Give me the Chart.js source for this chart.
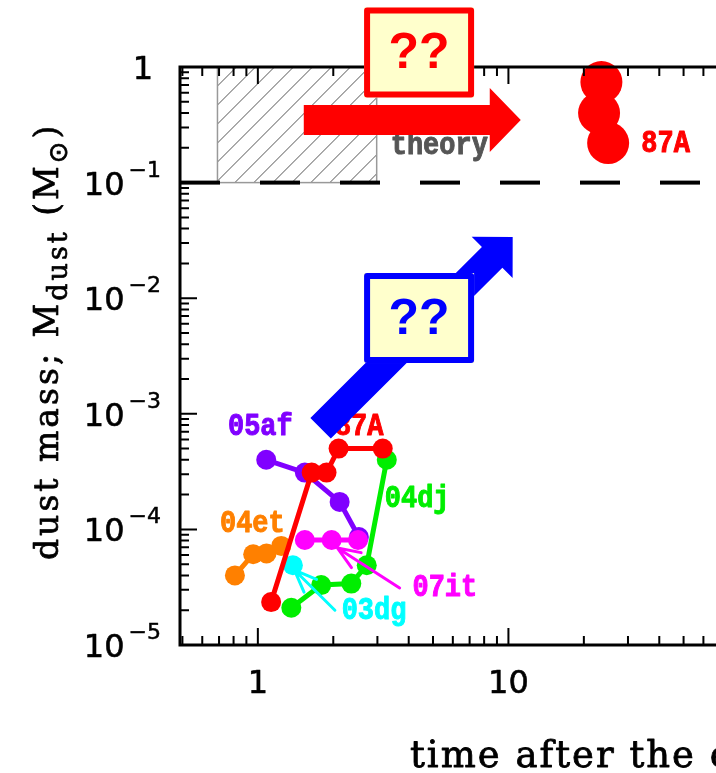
<!DOCTYPE html>
<html>
<head>
<meta charset="utf-8">
<title>Dust mass in supernovae</title>
<script src="https://cdn.jsdelivr.net/npm/chart.js@4/dist/chart.umd.min.js"></script>
<style>
html, body { margin: 0; padding: 0; background: #fff; overflow: hidden; }
#wrap { width: 716px; height: 773px; overflow: hidden; }
</style>
</head>
<body>
<div id="wrap"><canvas id="dustChart" width="780" height="773"></canvas></div>
<script>
// dust mass (Msun) against time after the explosion (yr)
const sn05afTime = [1.08, 1.54, 2.12, 2.53];
const sn05afMass = [4.0e-4, 3.1e-4, 1.73e-4, 8.6e-5];

const sn87aTime = [1.13, 1.64, 1.88, 2.10, 3.15];
const sn87aMass = [2.35e-5, 3.1e-4, 3.1e-4, 5.0e-4, 5.0e-4];

const sn04djTime = [1.36, 1.79, 2.36, 2.72, 3.27];
const sn04djMass = [2.1e-5, 3.3e-5, 3.4e-5, 4.9e-5, 4.0e-4];

const sn04etTime = [0.81, 0.958, 1.083, 1.24];
const sn04etMass = [4.0e-5, 6.1e-5, 6.2e-5, 7.2e-5];

const sn07itTime = [1.54, 1.97, 2.51];
const sn07itMass = [8.1e-5, 8.1e-5, 8.1e-5];

const sn03dgTime = [1.38];
const sn03dgMass = [4.9e-5];

// late-time 87A (far-IR / submm)
const sn87aLateTime = [23.5, 23.0, 25.0];
const sn87aLateMass = [0.74, 0.40, 0.22];

// theoretical range of condensed dust
const theoryTime = [0.69, 2.98];
const theoryMass = [0.1, 1];

const xTicks = [1, 10, 100];
const yTicks = [1e-5, 1e-4, 1e-3, 1e-2, 1e-1, 1];

function pairs(ts, ms) {
    return ts.map(function(t, i) { return { x: t, y: ms[i] }; });
}

function series(data, color, order, radius, line) {
    return {
        data: data,
        borderColor: color,
        backgroundColor: color,
        pointBackgroundColor: color,
        pointBorderWidth: 0,
        pointRadius: radius,
        pointHoverRadius: radius,
        borderWidth: 5,
        showLine: line,
        tension: 0,
        order: order,
        clip: false
    };
}

const SERIF = '"DejaVu Serif", serif';
const SANS = '"DejaVu Sans", sans-serif';
const MONO = '"Liberation Mono", monospace';

function logMarks(min, max) {
    const out = [];
    for (let d = Math.floor(Math.log10(min)); d <= Math.ceil(Math.log10(max)); d++) {
        for (let m = 1; m < 10; m++) {
            const v = m * Math.pow(10, d);
            if (v >= min * 0.999 && v <= max * 1.001) out.push({ v: v, major: m === 1 });
        }
    }
    return out;
}

function blockArrow(ctx, x0, y0, x1, y1, shaft, headLen, headHalf, color) {
    const ang = Math.atan2(y1 - y0, x1 - x0);
    const len = Math.hypot(x1 - x0, y1 - y0);
    ctx.save();
    ctx.translate(x0, y0);
    ctx.rotate(ang);
    ctx.fillStyle = color;
    ctx.beginPath();
    ctx.moveTo(0, -shaft / 2);
    ctx.lineTo(len - headLen, -shaft / 2);
    ctx.lineTo(len - headLen, -headHalf);
    ctx.lineTo(len, 0);
    ctx.lineTo(len - headLen, headHalf);
    ctx.lineTo(len - headLen, shaft / 2);
    ctx.lineTo(0, shaft / 2);
    ctx.closePath();
    ctx.fill();
    ctx.restore();
}

function lineArrow(ctx, x0, y0, x1, y1, color) {
    const ang = Math.atan2(y1 - y0, x1 - x0);
    const head = 24, spread = 0.38;
    ctx.save();
    ctx.strokeStyle = color;
    ctx.lineWidth = 3;
    ctx.lineCap = 'round';
    ctx.beginPath();
    ctx.moveTo(x0, y0);
    ctx.lineTo(x1, y1);
    ctx.moveTo(x1 - head * Math.cos(ang - spread), y1 - head * Math.sin(ang - spread));
    ctx.lineTo(x1, y1);
    ctx.lineTo(x1 - head * Math.cos(ang + spread), y1 - head * Math.sin(ang + spread));
    ctx.stroke();
    ctx.restore();
}

function questionBox(ctx, cx, cy, w, h, color) {
    ctx.save();
    ctx.fillStyle = '#ffffcc';
    ctx.fillRect(cx - w / 2, cy - h / 2, w, h);
    ctx.strokeStyle = color;
    ctx.lineWidth = 6;
    ctx.strokeRect(cx - w / 2 + 3, cy - h / 2 + 3, w - 6, h - 6);
    ctx.fillStyle = color;
    ctx.font = 'bold 50px "Liberation Sans", sans-serif';
    ctx.textAlign = 'center';
    ctx.textBaseline = 'middle';
    ctx.fillText('??', cx, cy + 2);
    ctx.restore();
}

// heavier text: fill plus a thin outline in the same colour
function heavyText(ctx, s, x, y, weight) {
    ctx.lineWidth = weight;
    ctx.strokeStyle = ctx.fillStyle;
    ctx.lineJoin = 'round';
    ctx.strokeText(s, x, y);
    ctx.fillText(s, x, y);
}

// labels next to each supernova track
const snLabels = [
    { text: '05af', color: '#8000ff', t: 0.76, m: 7.7e-4 },
    { text: '87A', color: '#ff0000', t: 2.03, m: 7.7e-4 },
    { text: '04dj', color: '#00ee00', t: 3.21, m: 1.83e-4 },
    { text: '04et', color: '#ff8000', t: 0.706, m: 1.11e-4 },
    { text: '07it', color: '#ff00ff', t: 4.14, m: 3.11e-5 },
    { text: '03dg', color: '#00ffff', t: 2.16, m: 1.97e-5 },
    { text: '87A', color: '#ff0000', t: 33.9, m: 0.216 },
    { text: 'theory', color: '#555555', t: 3.39, m: 0.207 }
];

const underlay = {
    id: 'underlay',
    beforeDatasetsDraw: function(chart) {
        const ctx = chart.ctx;
        const area = chart.chartArea;
        const xs = chart.scales.x, ys = chart.scales.y;
        const bx0 = xs.getPixelForValue(theoryTime[0]);
        const bx1 = xs.getPixelForValue(theoryTime[1]);
        const by0 = ys.getPixelForValue(theoryMass[1]);
        const by1 = ys.getPixelForValue(theoryMass[0]);
        ctx.save();
        // hatched theory box
        ctx.beginPath();
        ctx.rect(bx0, by0, bx1 - bx0, by1 - by0);
        ctx.clip();
        ctx.strokeStyle = '#555';
        ctx.lineWidth = 1;
        ctx.beginPath();
        for (let x = bx0 - (by1 - by0); x < bx1 + 20; x += 19) {
            ctx.moveTo(x, by1);
            ctx.lineTo(x + (by1 - by0), by0);
        }
        ctx.stroke();
        ctx.restore();
        ctx.save();
        ctx.strokeStyle = '#999';
        ctx.lineWidth = 1.5;
        ctx.strokeRect(bx0, by0, bx1 - bx0, by1 - by0);
        // dashed line at 0.1 Msun
        ctx.strokeStyle = '#000';
        ctx.lineWidth = 4;
        ctx.setLineDash([40, 40]);
        ctx.beginPath();
        ctx.moveTo(area.left, by1);
        ctx.lineTo(area.right, by1);
        ctx.stroke();
        ctx.restore();
    }
};

const overlay = {
    id: 'overlay',
    afterDatasetsDraw: function(chart) {
        const ctx = chart.ctx;
        const area = chart.chartArea;
        const xs = chart.scales.x, ys = chart.scales.y;
        ctx.save();

        // frame with inward ticks
        ctx.strokeStyle = '#000';
        ctx.lineWidth = 3;
        ctx.strokeRect(area.left, area.top, area.right - area.left, area.bottom - area.top);
        ctx.lineWidth = 2;
        ctx.beginPath();
        logMarks(xs.min, xs.max).forEach(function(k) {
            const px = xs.getPixelForValue(k.v);
            const len = k.major ? 17 : 9;
            ctx.moveTo(px, area.bottom);
            ctx.lineTo(px, area.bottom - len);
            ctx.moveTo(px, area.top);
            ctx.lineTo(px, area.top + len);
        });
        logMarks(ys.min, ys.max).forEach(function(k) {
            const py = ys.getPixelForValue(k.v);
            const len = k.major ? 17 : 9;
            ctx.moveTo(area.left, py);
            ctx.lineTo(area.left + len, py);
            ctx.moveTo(area.right, py);
            ctx.lineTo(area.right - len, py);
        });
        ctx.stroke();

        // tick labels
        ctx.fillStyle = '#000';
        ctx.font = '32px ' + SANS;
        ctx.textAlign = 'center';
        ctx.textBaseline = 'alphabetic';
        xTicks.forEach(function(v) {
            heavyText(ctx, String(v), xs.getPixelForValue(v), area.bottom + 48, 0.6);
        });
        yTicks.forEach(function(v) {
            const py = ys.getPixelForValue(v);
            const e = Math.round(Math.log10(v));
            ctx.textAlign = 'right';
            if (e === 0) {
                ctx.font = '32px ' + SANS;
                heavyText(ctx, '1', area.left - 27, py + 12, 0.6);
                return;
            }
            const sup = '\u2212' + Math.abs(e);
            ctx.font = '22px ' + SANS;
            const w = ctx.measureText(sup).width;
            heavyText(ctx, sup, area.left - 19, py - 6, 0.5);
            ctx.font = '32px ' + SANS;
            heavyText(ctx, '10', area.left - 23 - w, py + 12, 0.6);
        });

        // x axis title
        ctx.textAlign = 'left';
        ctx.font = '37px ' + SERIF;
        ctx.letterSpacing = '2px';
        heavyText(ctx, 'time after the explosion (yr)', 410, 767, 0.8);
        ctx.letterSpacing = '0px';

        // y axis title, rotated, with subscripts
        ctx.save();
        ctx.translate(58, 560);
        ctx.rotate(-Math.PI / 2);
        ctx.textAlign = 'left';
        let cx = 0;
        const parts = [
            { s: 'dust mass; M', f: '33px ' + SERIF, dy: 0 },
            { s: 'dust', f: '27px ' + SERIF, dy: 9 },
            { s: ' (M', f: '33px ' + SERIF, dy: 0 },
            { s: '\u2299', f: '26px ' + SANS, dy: 9 },
            { s: ')', f: '33px ' + SERIF, dy: 0 }
        ];
        ctx.letterSpacing = '3px';
        parts.forEach(function(p) {
            ctx.font = p.f;
            heavyText(ctx, p.s, cx, p.dy, 0.7);
            cx += ctx.measureText(p.s).width;
        });
        ctx.letterSpacing = '0px';
        ctx.restore();

        // supernova labels, slightly condensed bold slab type
        ctx.font = 'bold 31px ' + MONO;
        ctx.textAlign = 'left';
        ctx.textBaseline = 'middle';
        snLabels.forEach(function(l) {
            ctx.save();
            ctx.fillStyle = l.color;
            ctx.translate(xs.getPixelForValue(l.t), ys.getPixelForValue(l.m));
            ctx.scale(0.87, 1);
            heavyText(ctx, l.text, 0, 0, 1);
            ctx.restore();
        });

        // pointer arrows from labels
        lineArrow(ctx, xs.getPixelForValue(3.68), ys.getPixelForValue(3.11e-5),
            xs.getPixelForValue(2.08), ys.getPixelForValue(6.9e-5), '#ff00ff');
        lineArrow(ctx, xs.getPixelForValue(2.03), ys.getPixelForValue(2.0e-5),
            xs.getPixelForValue(1.40), ys.getPixelForValue(4.45e-5), '#00ffff');

        // big arrows and question boxes
        blockArrow(ctx, xs.getPixelForValue(1.525), ys.getPixelForValue(0.348),
            xs.getPixelForValue(11.2), ys.getPixelForValue(0.348), 30, 31, 32, '#ff0000');
        blockArrow(ctx, xs.getPixelForValue(1.78), ys.getPixelForValue(7.5e-4),
            xs.getPixelForValue(10.4), ys.getPixelForValue(0.0339), 29, 29, 29, '#0000ff');
        questionBox(ctx, xs.getPixelForValue(4.40), ys.getPixelForValue(1.335), 110, 90, '#ff0000');
        questionBox(ctx, xs.getPixelForValue(4.40), ys.getPixelForValue(6.74e-3), 110, 90, '#0000ff');

        ctx.restore();
    }
};

const ctx = document.getElementById('dustChart');
const dustChart = new Chart(ctx, {
    type: 'scatter',
    data: {
        datasets: [
            series(pairs(sn87aTime, sn87aMass), '#ff0000', 0, 10, true),
            series(pairs(sn87aLateTime, sn87aLateMass), '#ff0000', 0, 21, false),
            series(pairs(sn03dgTime, sn03dgMass), '#00ffff', 1, 10, true),
            series(pairs(sn07itTime, sn07itMass), '#ff00ff', 2, 10, true),
            series(pairs(sn04etTime, sn04etMass), '#ff8000', 3, 10, true),
            series(pairs(sn05afTime, sn05afMass), '#8000ff', 4, 10, true),
            series(pairs(sn04djTime, sn04djMass), '#00ee00', 5, 10, true)
        ]
    },
    options: {
        responsive: false,
        animation: false,
        devicePixelRatio: 1,
        layout: { padding: { left: 180, top: 67, right: 20, bottom: 128 } },
        plugins: { legend: { display: false }, tooltip: { enabled: false } },
        scales: {
            x: { type: 'logarithmic', min: 0.489, max: 100, display: false },
            y: { type: 'logarithmic', min: 1e-5, max: 1, display: false }
        }
    },
    plugins: [underlay, overlay]
});
</script>
</body>
</html>
